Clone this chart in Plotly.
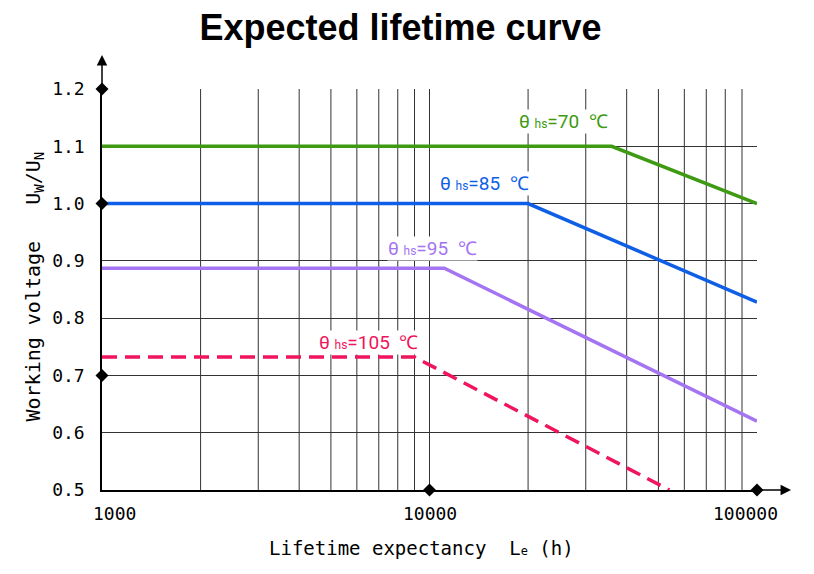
import math
import plotly.graph_objects as go

# ---- data ----
x_ticks = [1000, 10000, 100000]
x_tick_labels = ["1000", "10000", "100000"]
y_ticks = [0.5, 0.6, 0.7, 0.8, 0.9, 1.0, 1.1, 1.2]
y_tick_labels = ["0.5", "0.6", "0.7", "0.8", "0.9", "1.0", "1.1", "1.2"]

curve_70_x = [1000, 36000, 100000]
curve_70_y = [1.10, 1.10, 1.00]
curve_85_x = [1000, 20000, 100000]
curve_85_y = [1.00, 1.00, 0.828]
curve_95_x = [1000, 11100, 100000]
curve_95_y = [0.887, 0.887, 0.62]
curve_105_x = [1000, 9000, 54000]
curve_105_y = [0.732, 0.732, 0.50]

labels = ["70", "85", "95", "105"]
label_x = [25600, 14700, 10200, 6500]
label_y = [1.143, 1.035, 0.921, 0.757]

marker_x = [1000, 1000, 1000, 10000, 100000]
marker_y = [1.2, 1.0, 0.7, 0.5, 0.5]

grid_x = [2000, 3000, 4000, 5000, 6000, 7000, 8000, 9000,
          20000, 30000, 40000, 50000, 60000, 70000, 80000, 90000]

colors = ["#3d9a12", "#0f5fe6", "#a474f2", "#f0155c"]

fig = go.Figure()

# vertical grid lines
for gx in grid_x:
    fig.add_trace(go.Scatter(x=[gx, gx], y=[0.5, 1.2], mode="lines",
                             line=dict(color="#333", width=1), hoverinfo="skip",
                             showlegend=False))

series = [(curve_70_x, curve_70_y, "solid"), (curve_85_x, curve_85_y, "solid"),
          (curve_95_x, curve_95_y, "solid"), (curve_105_x, curve_105_y, "15px,8px")]
for (sx, sy, dash), c in zip(series, colors):
    fig.add_trace(go.Scatter(x=sx, y=sy, mode="lines",
                             line=dict(color=c, width=3.5, dash=dash),
                             showlegend=False))

fig.add_trace(go.Scatter(x=marker_x, y=marker_y, mode="markers",
                         marker=dict(symbol="diamond", size=10, color="black"),
                         cliponaxis=False, showlegend=False))

annotations = []
for t, lx, ly, c in zip(labels, label_x, label_y, colors):
    annotations.append(dict(
        x=math.log10(lx), y=ly, xref="x", yref="y", showarrow=False,
        text=f"θ <span style='font-size:12px'>hs</span>={t}  ℃",
        font=dict(family="Roboto", size=19, color=c),
        xanchor="center", yanchor="middle", bgcolor="white", borderpad=0))

shifts = [12, 0, -12]
for tv, tl, s in zip(x_ticks, x_tick_labels, shifts):
    annotations.append(dict(
        x=math.log10(tv), y=0, xref="x", yref="paper", showarrow=False, text=tl,
        yshift=-23, xshift=s, xanchor="center", yanchor="middle",
        font=dict(family="DejaVu Sans Mono", size=18, color="black")))

# axis arrows
annotations.append(dict(x=0, y=1.085, xref="paper", yref="paper", ax=0, ay=40,
                        showarrow=True, arrowhead=2, arrowsize=1.4, arrowwidth=1.5,
                        arrowcolor="black", text=""))
annotations.append(dict(x=1.052, y=0, xref="paper", yref="paper", ax=-40, ay=0,
                        showarrow=True, arrowhead=2, arrowsize=1.4, arrowwidth=1.5,
                        arrowcolor="black", text=""))

# x axis title
annotations.append(dict(
    x=0.5, y=0, xref="paper", yref="paper", showarrow=False, xshift=-8,
    text="Lifetime expectancy  L<span style='font-size:12px'>e</span> (h)",
    yshift=-58, yanchor="middle",
    font=dict(family="DejaVu Sans Mono", size=19, color="black")))

# y axis title
annotations.append(dict(
    x=0, y=0.5, xref="paper", yref="paper", showarrow=False, xshift=-69, yshift=3,
    textangle=-90, xanchor="center", yanchor="middle",
    text="Working voltage   U<sub>W</sub>/U<sub>N</sub>",
    font=dict(family="DejaVu Sans Mono", size=20, color="black")))

fig.update_layout(
    width=814, height=574,
    margin=dict(l=102, r=57, t=89, b=84),
    plot_bgcolor="white", paper_bgcolor="white",
    title=dict(text="<b>Expected lifetime curve</b>", x=0.492, xanchor="center",
               y=0.952, yanchor="middle",
               font=dict(family="Liberation Sans, Arial", size=36, color="black")),
    annotations=annotations,
    xaxis=dict(type="log", range=[2.99999, 5.00001], tickvals=x_ticks,
               showticklabels=False,
               showgrid=True, gridcolor="#333", gridwidth=1,
               showline=True, linecolor="black", linewidth=1.5, zeroline=False,
               ticks=""),
    yaxis=dict(range=[0.5, 1.2], tickvals=y_ticks, ticktext=y_tick_labels,
               showgrid=True, gridcolor="#333", gridwidth=1,
               showline=True, linecolor="black", linewidth=1.5, zeroline=False,
               ticks="", ticklabelstandoff=12,
               tickfont=dict(family="DejaVu Sans Mono", size=18, color="black")),
)

fig.write_html("out.html")
